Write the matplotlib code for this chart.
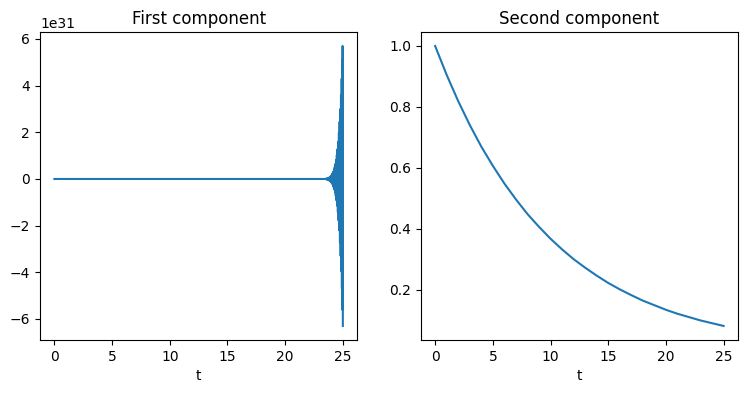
import matplotlib
matplotlib.use("Agg")
import matplotlib.pyplot as plt
import numpy as np

# First component: flat at zero, then an exploding oscillation near t=25 (units of 1e31)
t1_flat = [0.0, 23.5]
y1_flat = [0.0, 0.0]
t1_burst = [23.52, 23.55, 23.58, 23.61, 23.64, 23.67, 23.70, 23.73, 23.76, 23.79,
            23.82, 23.85, 23.88, 23.91, 23.94, 23.97, 24.00, 24.03, 24.06, 24.09,
            24.12, 24.15, 24.18, 24.21, 24.24, 24.27, 24.30, 24.33, 24.36, 24.39,
            24.42, 24.45, 24.48, 24.51, 24.54, 24.57, 24.60, 24.63, 24.66, 24.69,
            24.72, 24.75, 24.78, 24.81, 24.84, 24.87, 24.90, 24.92, 24.94, 24.96,
            24.98, 25.0]
y1_burst = [0.01, -0.012, 0.015, -0.018, 0.022, -0.027, 0.032, -0.038, 0.045, -0.053,
            0.062, -0.073, 0.085, -0.10, 0.115, -0.13, 0.15, -0.17, 0.195, -0.22,
            0.25, -0.285, 0.32, -0.36, 0.41, -0.46, 0.52, -0.58, 0.65, -0.73,
            0.82, -0.92, 1.03, -1.15, 1.28, -1.43, 1.6, -1.78, 1.98, -2.2,
            2.45, -2.72, 3.0, -3.3, 3.6, -3.95, 4.3, -4.7, 5.1, -5.6,
            5.7, -6.3]

# Second component: decaying curve
t2 = list(range(0, 26))
y2 = [1.0, 0.905, 0.819, 0.741, 0.670, 0.607, 0.549, 0.497, 0.449, 0.407,
      0.368, 0.333, 0.301, 0.273, 0.247, 0.223, 0.202, 0.183, 0.165, 0.150,
      0.135, 0.122, 0.111, 0.100, 0.091, 0.082]

t1 = np.array(t1_flat + t1_burst)
y1 = np.array(y1_flat + y1_burst) * 1e31

fig, (ax1, ax2) = plt.subplots(1, 2, figsize=(7.47, 3.93), dpi=100)
fig.subplots_adjust(left=0.0535, right=0.988, bottom=0.135, top=0.9186, wspace=0.2)

ax1.plot(t1, y1)
ax1.set_title("First component")
ax1.set_xlabel("t")
ax1.set_xticks([0, 5, 10, 15, 20, 25])

ax2.plot(t2, y2)
ax2.set_title("Second component")
ax2.set_xlabel("t")
ax2.set_xticks([0, 5, 10, 15, 20, 25])

fig.savefig("out.png", dpi=100)
